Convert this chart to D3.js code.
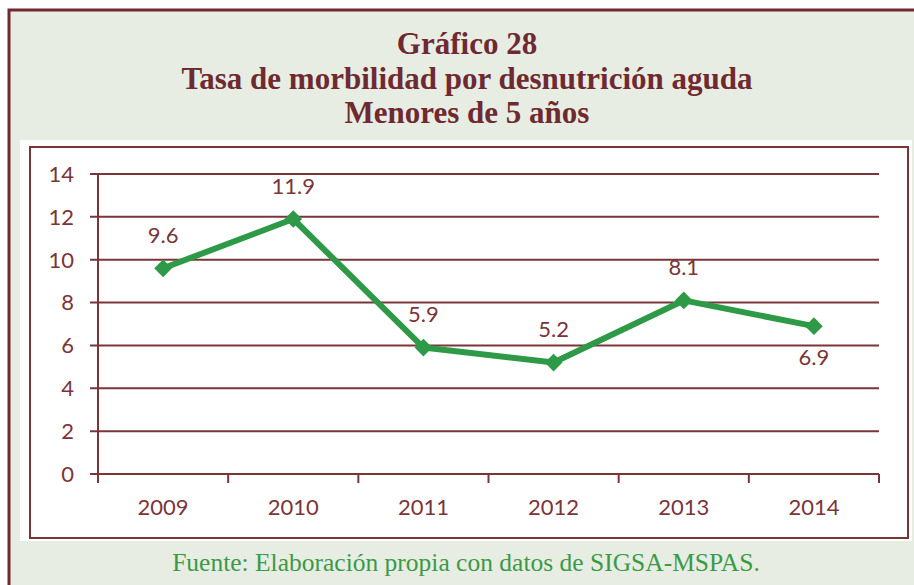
<!DOCTYPE html>
<html>
<head>
<meta charset="utf-8">
<script src="https://cdn.jsdelivr.net/npm/d3@7"></script>
<style>
  body { margin: 0; background: #fff; }
  svg { display: block; }
</style>
</head>
<body>
<div id="chart"></div>
<script>
// data
const years = ["2009", "2010", "2011", "2012", "2013", "2014"];
const rates = [9.6, 11.9, 5.9, 5.2, 8.1, 6.9];
const labelBelow = [false, false, false, false, false, true];
const yTicks = [0, 2, 4, 6, 8, 10, 12, 14];
const titleLines = ["Gráfico 28", "Tasa de morbilidad por desnutrición aguda", "Menores de 5 años"];
const sourceText = "Fuente: Elaboración propia con datos de SIGSA-MSPAS.";

const width = 914,
  height = 585;

const maroon = "#7a3539",
  titleColor = "#6e2a30",
  green = "#2e9a47";

const svg = d3.select("#chart").append("svg").attr("width", width).attr("height", height);

// page frame
svg.append("rect").attr("x", 9).attr("y", 10).attr("width", width).attr("height", height)
  .attr("fill", "#e8ede4").attr("stroke", "#6e2a30").attr("stroke-width", 3);

svg.append("rect").attr("x", 20).attr("y", 140).attr("width", 892).attr("height", 401).attr("fill", "#fff");
svg.append("rect").attr("x", 30).attr("y", 147).attr("width", 878).attr("height", 391)
  .attr("fill", "none").attr("stroke", maroon).attr("stroke-width", 2);

// title
svg.append("g")
  .selectAll("text")
  .data(titleLines)
  .join("text")
  .attr("x", 467)
  .attr("y", (d, i) => 54 + i * 34.5)
  .attr("text-anchor", "middle")
  .attr("font-family", "'Liberation Serif', serif")
  .attr("font-weight", "bold")
  .attr("font-size", 31)
  .attr("fill", titleColor)
  .text(d => d);

svg.append("text")
  .attr("x", 466)
  .attr("y", 571)
  .attr("text-anchor", "middle")
  .attr("font-family", "'Liberation Serif', serif")
  .attr("font-size", 25.5)
  .attr("fill", "#3a9a45")
  .text(sourceText);

// plot
const x = d3.scaleBand().domain(years).range([98, 879]);
const y = d3.scaleLinear().domain([0, 14]).range([474, 174]);

const plot = svg.append("g")
  .attr("font-family", "Lato, 'Open Sans', sans-serif")
  .attr("fill", maroon);

// gridlines + y axis ticks
plot.selectAll(".grid")
  .data(yTicks)
  .join("line")
  .attr("x1", 90)
  .attr("x2", 879)
  .attr("y1", d => y(d))
  .attr("y2", d => y(d))
  .attr("stroke", maroon)
  .attr("stroke-width", 2);

plot.selectAll(".ylab")
  .data(yTicks)
  .join("text")
  .attr("x", 74)
  .attr("y", d => y(d))
  .attr("dy", "0.36em")
  .attr("text-anchor", "end")
  .attr("font-size", 22)
  .text(d => d);

plot.append("line")
  .attr("x1", 98).attr("x2", 98)
  .attr("y1", y(14)).attr("y2", y(0))
  .attr("stroke", maroon).attr("stroke-width", 2);

// x ticks at band edges
const edges = years.map(d => x(d)).concat([x.range()[1]]);
plot.selectAll(".xtick")
  .data(edges)
  .join("line")
  .attr("x1", d => d).attr("x2", d => d)
  .attr("y1", y(0)).attr("y2", y(0) + 9)
  .attr("stroke", maroon).attr("stroke-width", 2);

plot.selectAll(".xlab")
  .data(years)
  .join("text")
  .attr("x", d => x(d) + x.bandwidth() / 2)
  .attr("y", 507)
  .attr("dy", "0.36em")
  .attr("text-anchor", "middle")
  .attr("font-size", 22)
  .text(d => d);

// series
const pts = years.map((d, i) => ({ year: d, v: rates[i], below: labelBelow[i] }));
const line = d3.line().x(d => x(d.year) + x.bandwidth() / 2).y(d => y(d.v));

svg.append("path")
  .datum(pts)
  .attr("d", line)
  .attr("fill", "none")
  .attr("stroke", green)
  .attr("stroke-width", 6)
  .attr("stroke-linejoin", "round");

svg.selectAll(".marker")
  .data(pts)
  .join("path")
  .attr("d", d3.symbol().type(d3.symbolDiamond2).size(200))
  .attr("transform", d => `translate(${x(d.year) + x.bandwidth() / 2},${y(d.v)})`)
  .attr("fill", green);

plot.selectAll(".vlab")
  .data(pts)
  .join("text")
  .attr("x", d => x(d.year) + x.bandwidth() / 2)
  .attr("y", d => y(d.v) + (d.below ? 31 : -33))
  .attr("dy", "0.36em")
  .attr("text-anchor", "middle")
  .attr("font-size", 22)
  .text(d => d.v.toFixed(1));
</script>
</body>
</html>
